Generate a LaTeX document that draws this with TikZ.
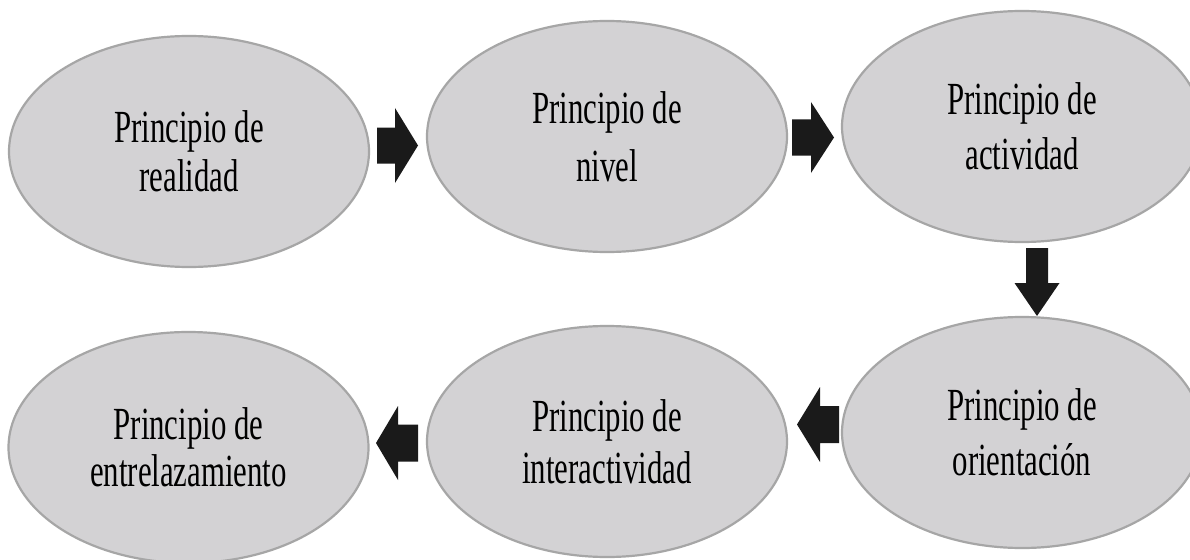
\documentclass[tikz,border=0pt]{standalone}
\usepackage{fontspec}
\setmainfont{Liberation Serif}[FakeStretch=0.67]
\usetikzlibrary{shapes.geometric}
\definecolor{ellfill}{RGB}{211,210,212}
\definecolor{elldraw}{RGB}{166,166,166}
\definecolor{arrowcol}{RGB}{26,26,26}
\tikzset{
  ell/.style={ellipse, draw=elldraw, fill=ellfill, line width=2.2pt,
    minimum width=360pt, minimum height=231pt, inner sep=0pt, align=center,
    font=\fontsize{46}{47}\selectfont, text=black},
  pics/blockarrow/.style n args={4}{code={
    \fill[arrowcol] (0,-#2) -- (#4,-#2) -- (#4,-#3) -- (#1,0) -- (#4,#3) -- (#4,#2) -- (0,#2) -- cycle;}}
}
\begin{document}
\begin{tikzpicture}[x=1pt,y=-1pt]
\clip (0,0) rectangle (1190,559);
\fill[white] (0,0) rectangle (1190,559);
\node[ell] (e1) at (189,151.5) {Principio de\\[2pt]realidad};
\node[ell] (e2) at (607,136.5) {Principio de\\[11pt]nivel};
\node[ell] (e3) at (1022,126.5) {Principio de\\[8pt]actividad};
\node[ell] (e4) at (1022,432.5) {Principio de\\[8pt]orientación};
\node[ell] (e5) at (607,441.5) {Principio de\\[5pt]interactividad};
\node[ell] (e6) at (188.5,447.5) {Principio de\\[0pt]entrelazamiento};
\pic (a1) at (377,145.5) {blockarrow={41}{18}{37.5}{18}};
\pic (a2) at (792,137.5) {blockarrow={42}{18}{35.5}{19}};
\pic[rotate=-90] (a3) at (1037,248) {blockarrow={68}{11}{22.5}{35}};
\pic[rotate=180] (a4) at (839,424.5) {blockarrow={42}{18.5}{37.5}{19}};
\pic[rotate=180] (a5) at (418,443) {blockarrow={42}{18.5}{37}{20}};
\end{tikzpicture}
\end{document}
